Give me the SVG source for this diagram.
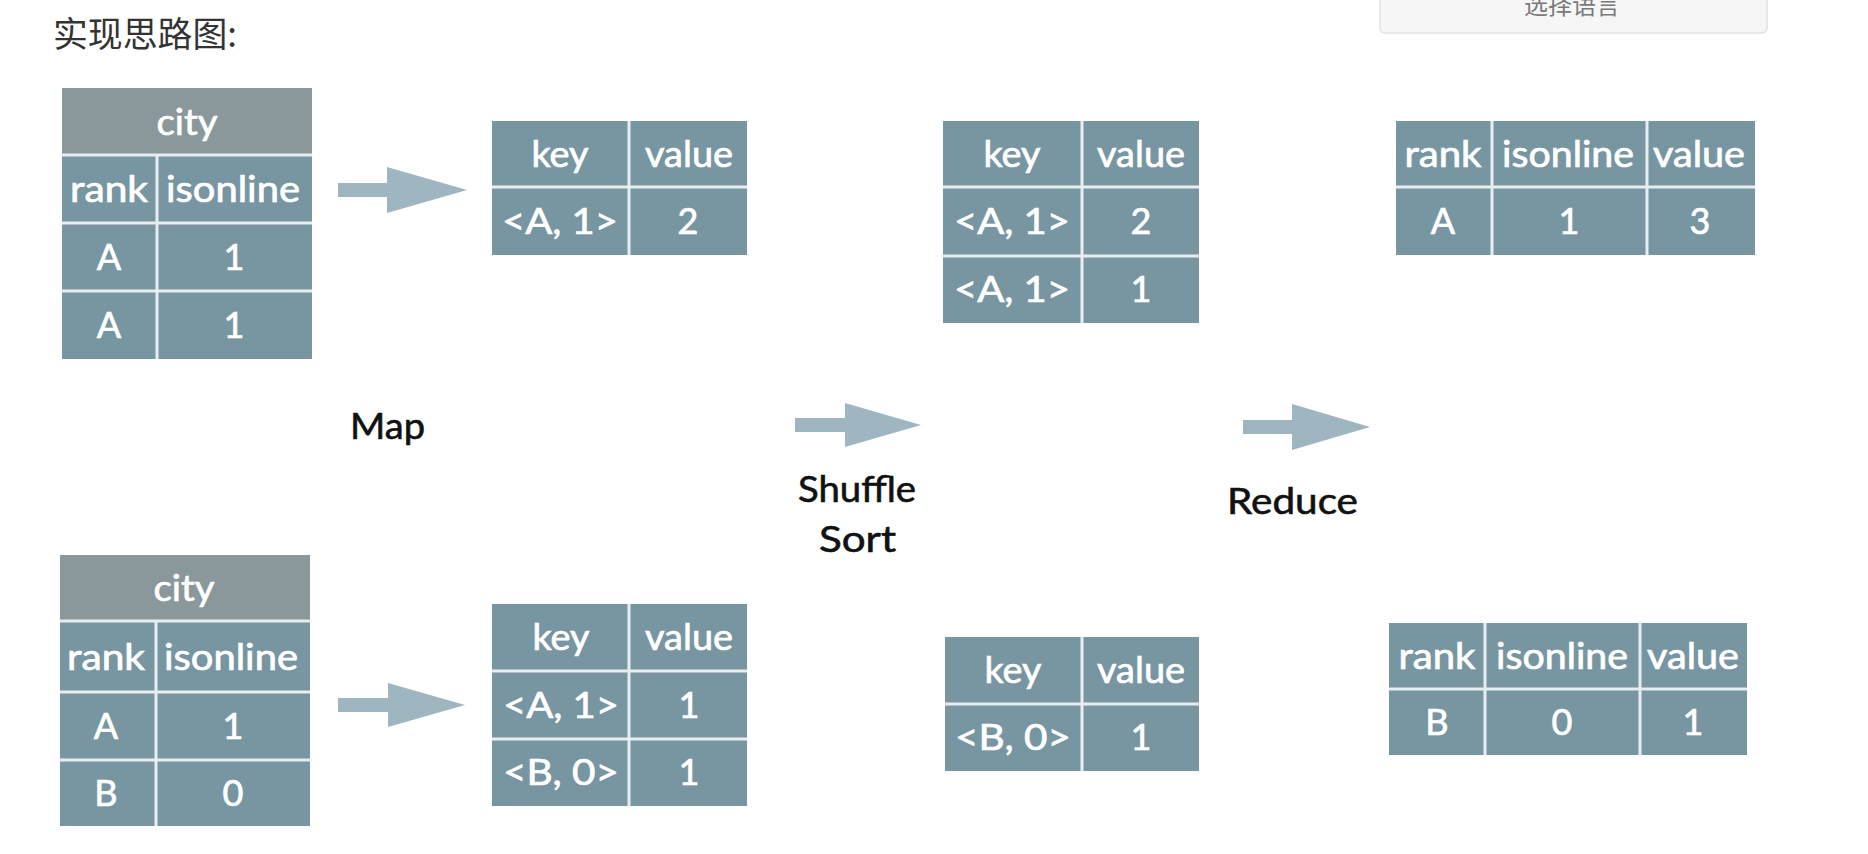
<svg xmlns="http://www.w3.org/2000/svg" width="1868" height="854" viewBox="0 0 1868 854">
<style>
.cell{fill:#7896a1}
.hdr{fill:#8a989c}
.grid{stroke:#e8eef0;stroke-width:3;fill:none}
.t{font-family:Lato,"Open Sans","Liberation Sans",sans-serif;font-size:36px;fill:#ffffff;stroke:#ffffff;stroke-width:0.7px;text-anchor:middle}
.lbl{font-family:Lato,"Open Sans","Liberation Sans",sans-serif;font-size:36px;fill:#111111;stroke:#111111;stroke-width:0.6px}
.arrow{fill:#9db6c0}
.title{font-family:"Noto Sans CJK SC","Noto Sans",sans-serif;font-size:35px;fill:#333333}
</style>
<rect width="1868" height="854" fill="#ffffff"/>
<text class="title" x="53" y="47" textLength="184" lengthAdjust="spacingAndGlyphs">实现思路图:</text>
<g id="lang-button">
<rect x="1380" y="-10" width="387" height="43" rx="5" fill="#f6f6f6" stroke="#e2e2e2" stroke-width="1.5"/>
<text x="1572" y="14" font-family="'Noto Sans CJK SC',sans-serif" font-size="24" fill="#7a7a7a" text-anchor="middle">选择语言</text>
</g>

<g id="city-table-1">
<rect class="cell" x="62" y="88" width="250" height="271"/>
<rect class="hdr" x="62" y="88" width="250" height="67"/>
<path class="grid" d="M62 155H312M62 223H312M62 291H312M157 155V359"/>
<text class="t" x="187" y="135" textLength="61" lengthAdjust="spacingAndGlyphs">city</text>
<text class="t" x="109" y="202" textLength="78" lengthAdjust="spacingAndGlyphs">rank</text>
<text class="t" x="233" y="202" textLength="134" lengthAdjust="spacingAndGlyphs">isonline</text>
<text class="t" x="109" y="270">A</text><text class="t" x="234" y="270">1</text>
<text class="t" x="109" y="338">A</text><text class="t" x="234" y="338">1</text>
</g>

<g id="map-output-1">
<rect class="cell" x="492" y="121" width="255" height="134"/>
<path class="grid" d="M492 187H747M629 121V255"/>
<text class="t" x="560" y="167" textLength="57" lengthAdjust="spacingAndGlyphs">key</text>
<text class="t" x="689" y="167" textLength="88" lengthAdjust="spacingAndGlyphs">value</text>
<text class="t" x="560" y="234" textLength="116" lengthAdjust="spacingAndGlyphs">&lt;A, 1&gt;</text>
<text class="t" x="688" y="234">2</text>
</g>

<g id="shuffle-output-1">
<rect class="cell" x="943" y="121" width="256" height="202"/>
<path class="grid" d="M943 187H1199M943 256H1199M1082 121V323"/>
<text class="t" x="1012" y="167" textLength="57" lengthAdjust="spacingAndGlyphs">key</text>
<text class="t" x="1141" y="167" textLength="88" lengthAdjust="spacingAndGlyphs">value</text>
<text class="t" x="1012" y="234" textLength="116" lengthAdjust="spacingAndGlyphs">&lt;A, 1&gt;</text>
<text class="t" x="1141" y="234">2</text>
<text class="t" x="1012" y="302" textLength="116" lengthAdjust="spacingAndGlyphs">&lt;A, 1&gt;</text>
<text class="t" x="1141" y="302">1</text>
</g>

<g id="reduce-output-1">
<rect class="cell" x="1396" y="121" width="359" height="134"/>
<path class="grid" d="M1396 187H1755M1492 121V255M1647 121V255"/>
<text class="t" x="1443" y="167" textLength="77" lengthAdjust="spacingAndGlyphs">rank</text>
<text class="t" x="1568" y="167" textLength="132" lengthAdjust="spacingAndGlyphs">isonline</text>
<text class="t" x="1699" y="167" textLength="92" lengthAdjust="spacingAndGlyphs">value</text>
<text class="t" x="1443" y="234">A</text>
<text class="t" x="1569" y="234">1</text>
<text class="t" x="1700" y="234">3</text>
</g>

<g id="city-table-2">
<rect class="cell" x="60" y="555" width="250" height="271"/>
<rect class="hdr" x="60" y="555" width="250" height="66"/>
<path class="grid" d="M60 621H310M60 692H310M60 760H310M156 621V826"/>
<text class="t" x="184" y="601" textLength="61" lengthAdjust="spacingAndGlyphs">city</text>
<text class="t" x="106" y="670" textLength="78" lengthAdjust="spacingAndGlyphs">rank</text>
<text class="t" x="231" y="670" textLength="134" lengthAdjust="spacingAndGlyphs">isonline</text>
<text class="t" x="106" y="739">A</text><text class="t" x="233" y="739">1</text>
<text class="t" x="106" y="806">B</text><text class="t" x="233" y="806">0</text>
</g>

<g id="map-output-2">
<rect class="cell" x="492" y="604" width="255" height="202"/>
<path class="grid" d="M492 671H747M492 739H747M629 604V806"/>
<text class="t" x="561" y="650" textLength="57" lengthAdjust="spacingAndGlyphs">key</text>
<text class="t" x="689" y="650" textLength="88" lengthAdjust="spacingAndGlyphs">value</text>
<text class="t" x="561" y="718" textLength="116" lengthAdjust="spacingAndGlyphs">&lt;A, 1&gt;</text>
<text class="t" x="689" y="718">1</text>
<text class="t" x="561" y="785" textLength="116" lengthAdjust="spacingAndGlyphs">&lt;B, 0&gt;</text>
<text class="t" x="689" y="785">1</text>
</g>

<g id="shuffle-output-2">
<rect class="cell" x="945" y="637" width="254" height="134"/>
<path class="grid" d="M945 704H1199M1082 637V771"/>
<text class="t" x="1013" y="683" textLength="57" lengthAdjust="spacingAndGlyphs">key</text>
<text class="t" x="1141" y="683" textLength="88" lengthAdjust="spacingAndGlyphs">value</text>
<text class="t" x="1013" y="750" textLength="116" lengthAdjust="spacingAndGlyphs">&lt;B, 0&gt;</text>
<text class="t" x="1141" y="750">1</text>
</g>

<g id="reduce-output-2">
<rect class="cell" x="1389" y="623" width="358" height="132"/>
<path class="grid" d="M1389 689H1747M1485 623V755M1640 623V755"/>
<text class="t" x="1437" y="669" textLength="77" lengthAdjust="spacingAndGlyphs">rank</text>
<text class="t" x="1562" y="669" textLength="132" lengthAdjust="spacingAndGlyphs">isonline</text>
<text class="t" x="1693" y="669" textLength="92" lengthAdjust="spacingAndGlyphs">value</text>
<text class="t" x="1437" y="735">B</text>
<text class="t" x="1562" y="735">0</text>
<text class="t" x="1693" y="735">1</text>
</g>

<g id="connectors">
<polygon class="arrow" points="338,183 387,183 387,167 467,190 387,213 387,197 338,197"/>
<polygon class="arrow" points="338,698 388,698 388,683 465,705 388,727 388,712 338,712"/>
<polygon class="arrow" points="795,418 845,418 845,403 921,425 845,447 845,432 795,432"/>
<polygon class="arrow" points="1243,420 1292,420 1292,404 1370,427 1292,450 1292,434 1243,434"/>
</g>

<g id="labels">
<text class="lbl" x="350" y="439" textLength="75" lengthAdjust="spacingAndGlyphs">Map</text>
<text class="lbl" x="798" y="502" textLength="118" lengthAdjust="spacingAndGlyphs">Shuffle</text>
<text class="lbl" x="819" y="552" textLength="77" lengthAdjust="spacingAndGlyphs">Sort</text>
<text class="lbl" x="1227" y="514" textLength="131" lengthAdjust="spacingAndGlyphs">Reduce</text>
</g>
</svg>
